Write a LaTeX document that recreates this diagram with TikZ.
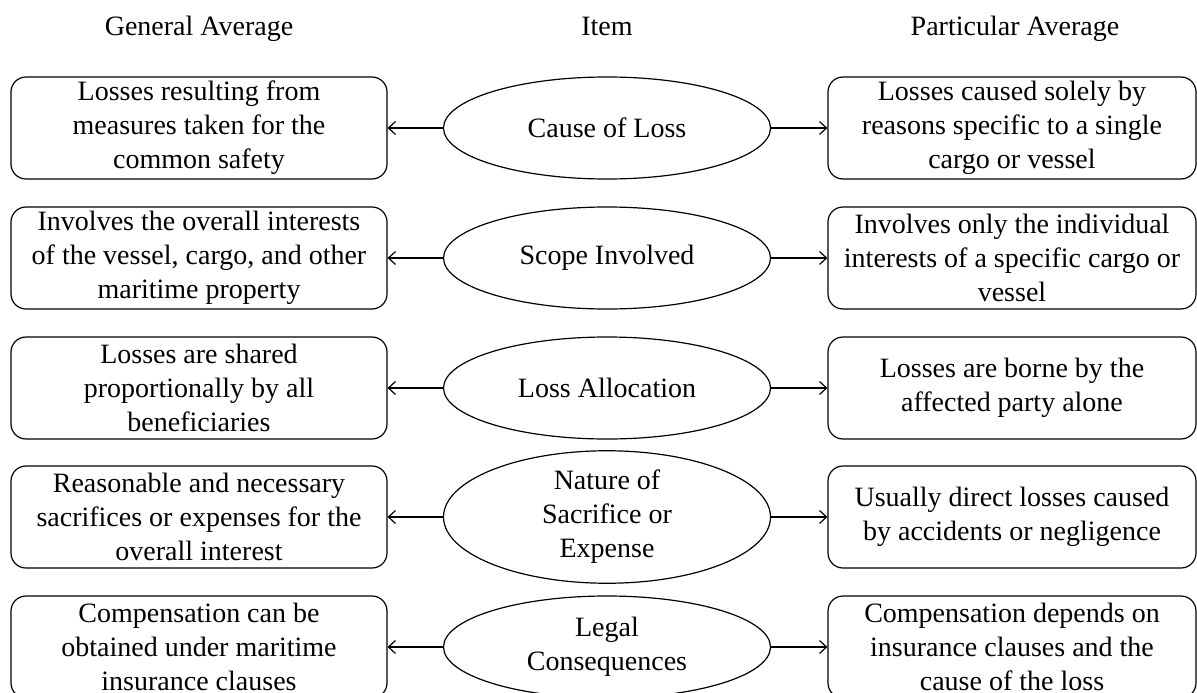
\documentclass[tikz,border=0pt]{standalone}
\usepackage{fontspec}
\setmainfont{Liberation Serif}
\usetikzlibrary{shapes.geometric,arrows.meta}
\newcommand{\fsz}{\fontsize{28}{34}\selectfont}
\begin{document}
\begin{tikzpicture}[x=1pt,y=-1pt,
  lbox/.style={draw, line width=1.2pt, rounded corners=15pt, minimum width=376pt, minimum height=102pt, inner sep=0pt, align=center, font=\fsz},
  rbox/.style={lbox, minimum width=368pt},
  ell/.style={draw, line width=1.2pt, ellipse, minimum width=327pt, minimum height=102pt, inner sep=0pt, align=center, font=\fsz},
  hdr/.style={font=\fsz, inner sep=0pt, anchor=base},
  conn/.style={line width=1.2pt, -{Straight Barb[length=7pt,width=13pt]}}]
\useasboundingbox (0,0) rectangle (1197,693);
\node[hdr] (h1) at (199,36) {General Average};
\node[hdr] (h2) at (607,36) {Item};
\node[hdr] (h3) at (1015,36) {Particular Average};
% row 1
\node[lbox] (l1) at (199,128) {Losses resulting from\\measures taken for the\\common safety};
\node[ell] (e1) at (607,128) {Cause of Loss};
\node[rbox] (r1) at (1012,128) {Losses caused solely by\\reasons specific to a single\\cargo or vessel};
% row 2
\node[lbox] (l2) at (199,258) {Involves the overall interests\\of the vessel, cargo, and other\\maritime property};
\node[ell] (e2) at (607,258) {Scope Involved};
\node[rbox] (r2) at (1012,258) {Involves only the individual\\interests of a specific cargo or\\vessel};
% row 3
\node[lbox] (l3) at (199,388) {Losses are shared\\proportionally by all\\beneficiaries};
\node[ell] (e3) at (607,388) {Loss Allocation};
\node[rbox] (r3) at (1012,388) {Losses are borne by the\\affected party alone};
% row 4
\node[lbox] (l4) at (199,517) {Reasonable and necessary\\sacrifices or expenses for the\\overall interest};
\node[ell] (e4) at (607,517) {Nature of\\Sacrifice or\\Expense};
\node[rbox] (r4) at (1012,517) {Usually direct losses caused\\by accidents or negligence};
% row 5
\node[lbox] (l5) at (199,647) {Compensation can be\\obtained under maritime\\insurance clauses};
\node[ell] (e5) at (607,647) {Legal\\Consequences};
\node[rbox] (r5) at (1012,647) {Compensation depends on\\insurance clauses and the\\cause of the loss};
\foreach \i in {1,...,5}{
  \draw[conn] (e\i.west) -- (l\i.east);
  \draw[conn] (e\i.east) -- (r\i.west);
}
\end{tikzpicture}
\end{document}
